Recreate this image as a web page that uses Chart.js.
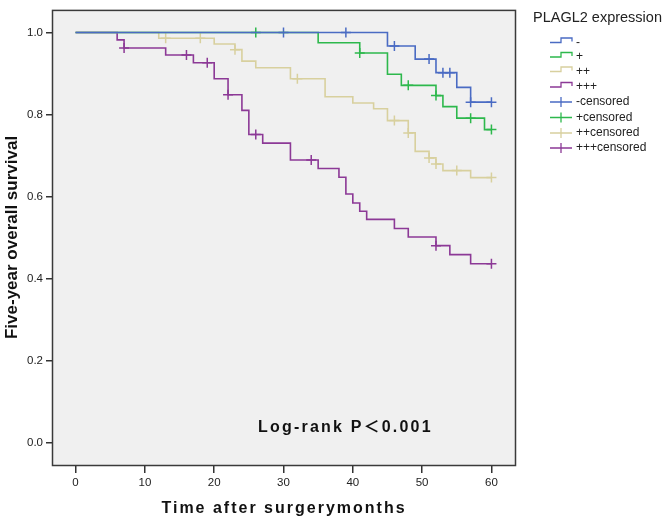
<!DOCTYPE html>
<html>
<head>
<meta charset="utf-8">
<script src="https://cdn.jsdelivr.net/npm/chart.js@4.4.0/dist/chart.umd.min.js"></script>
<style>
  body { margin: 0; background: #fff; }
  canvas { display: block; }
</style>
</head>
<body>
<canvas id="chart1" width="666" height="519"></canvas>
<script>
// survival curves (time in months, survival after each drop)
const groups = ['-', '+', '++', '+++'];
const colors = ['#4a6bc3', '#2db84c', '#d8d09e', '#8c3996'];

const timesNeg = [0, 45, 49, 52, 55, 57, 60];
const survNeg  = [1, 0.967, 0.935, 0.902, 0.866, 0.830, 0.830];
const censNeg  = [30, 39, 46, 51, 53, 54, 57, 60];

const timesPos = [0, 35, 41, 45, 47, 52, 53, 55, 59, 60];
const survPos  = [1, 0.975, 0.950, 0.898, 0.871, 0.846, 0.819, 0.791, 0.763, 0.763];
const censPos  = [26, 41, 48, 52, 57, 60];

const timesPos2 = [0, 12, 20, 23, 24, 26, 31, 36, 40, 43, 45, 48, 49, 51, 52, 53, 57, 60];
const survPos2  = [1, 0.986, 0.972, 0.958, 0.930, 0.914, 0.887, 0.843, 0.828, 0.814, 0.785, 0.755, 0.710, 0.694, 0.679, 0.663, 0.646, 0.646];
const censPos2  = [13, 18, 23, 32, 46, 48, 51, 52, 55, 60];

const timesPos3 = [0, 6, 7, 13, 17, 20, 22, 24, 25, 27, 31, 35, 38, 39, 40, 41, 42, 46, 48, 52, 54, 57, 60];
const survPos3  = [1, 0.982, 0.962, 0.945, 0.926, 0.887, 0.848, 0.810, 0.751, 0.730, 0.689, 0.668, 0.647, 0.606, 0.584, 0.564, 0.544, 0.522, 0.501, 0.480, 0.458, 0.436, 0.436];
const censPos3  = [7, 16, 19, 22, 26, 34, 52, 60];

const xTicks = [0, 10, 20, 30, 40, 50, 60];
const yTicks = [0, 0.2, 0.4, 0.6, 0.8, 1.0];

const allTimes = [timesNeg, timesPos, timesPos2, timesPos3];
const allSurv = [survNeg, survPos, survPos2, survPos3];
const allCens = [censNeg, censPos, censPos2, censPos3];

const FONT = "'Liberation Sans', Arial, sans-serif";

// survival value of a curve at time t (the step in effect)
function survAt(times, surv, t) {
    let s = surv[0];
    for (let i = 0; i < times.length; i++) {
        if (times[i] <= t) s = surv[i];
    }
    return s;
}

const lineSets = groups.map((g, i) => ({
    type: 'line',
    label: g,
    data: allTimes[i].map((t, j) => ({x: t, y: allSurv[i][j]})),
    borderColor: colors[i],
    borderWidth: 1.6,
    stepped: 'before',
    pointRadius: 0,
    fill: false
}));

const censorSets = groups.map((g, i) => ({
    type: 'scatter',
    label: g + 'censored',
    data: allCens[i].map(t => ({x: t, y: survAt(allTimes[i], allSurv[i], t)})),
    borderColor: colors[i],
    backgroundColor: colors[i],
    pointStyle: 'cross',
    pointRadius: 5,
    pointBorderWidth: 1.5,
    showLine: false
}));

// plot background, frame and extra texts
const decor = {
    id: 'decor',
    beforeDatasetsDraw(chart) {
        const {ctx, chartArea: a} = chart;
        ctx.save();
        ctx.fillStyle = '#f0f0f0';
        ctx.fillRect(a.left, a.top, a.right - a.left, a.bottom - a.top);
        ctx.restore();
    },
    afterDraw(chart) {
        const {ctx, chartArea: a} = chart;
        ctx.save();
        ctx.strokeStyle = '#3a3a3a';
        ctx.lineWidth = 1.5;
        ctx.strokeRect(a.left + 0.5, a.top + 0.5, a.right - a.left, a.bottom - a.top);

        ctx.fillStyle = '#111';
        ctx.font = "bold 16px 'Liberation Sans', 'Noto Sans CJK SC', sans-serif";
        ctx.textBaseline = 'alphabetic';
        ctx.letterSpacing = '2.2px';
        ctx.textAlign = 'left';
        ctx.fillText('Log-rank P＜0.001', 258, 432);

        ctx.font = 'bold 16px ' + FONT;
        ctx.letterSpacing = '2px';
        ctx.textAlign = 'center';
        ctx.fillText('Time after surgerymonths', 284, 513);
        ctx.letterSpacing = '0px';

        // legend
        ctx.fillStyle = '#222';
        ctx.font = '14.5px ' + FONT;
        ctx.textAlign = 'left';
        ctx.textBaseline = 'middle';
        ctx.fillText('PLAGL2 expression', 533, 18);

        const rows = [42.5, 57, 71.5, 87, 102, 117.5, 133, 148];
        ctx.font = '12px ' + FONT;
        ctx.lineWidth = 1.3;
        groups.forEach((g, i) => {
            const y = rows[i];
            ctx.strokeStyle = colors[i];
            ctx.beginPath();
            ctx.moveTo(550, y);
            ctx.lineTo(561, y);
            ctx.lineTo(561, y - 4.5);
            ctx.lineTo(572, y - 4.5);
            ctx.lineTo(572, y - 1);
            ctx.stroke();
            ctx.fillText(g, 576, y);
        });
        groups.forEach((g, i) => {
            const y = rows[i + 4];
            ctx.strokeStyle = colors[i];
            ctx.beginPath();
            ctx.moveTo(550, y);
            ctx.lineTo(572, y);
            ctx.moveTo(561, y - 5);
            ctx.lineTo(561, y + 5);
            ctx.stroke();
            ctx.fillText(g + 'censored', 576, y);
        });
        ctx.restore();
    }
};

const ctx1 = document.getElementById('chart1').getContext('2d');
const chart1 = new Chart(ctx1, {
    data: {
        datasets: [...lineSets, ...censorSets]
    },
    options: {
        responsive: false,
        animation: false,
        devicePixelRatio: 1,
        layout: {
            padding: {left: 0, right: 151, top: 2, bottom: 0}
        },
        plugins: {
            legend: {display: false},
            tooltip: {enabled: false}
        },
        scales: {
            x: {
                type: 'linear',
                min: -3.4,
                max: 63.4,
                afterFit: s => { s.height = 54; },
                afterBuildTicks: s => { s.ticks = xTicks.map(v => ({value: v})); },
                grid: {drawOnChartArea: false, tickLength: 8, color: '#333', lineWidth: 1.5},
                border: {display: false},
                ticks: {
                    padding: 3,
                    color: '#222',
                    font: {family: FONT, size: 11.5},
                    callback: v => String(v)
                }
            },
            y: {
                type: 'linear',
                min: -0.055,
                max: 1.055,
                afterFit: s => { s.width = 52; },
                afterBuildTicks: s => { s.ticks = yTicks.map(v => ({value: v})); },
                grid: {drawOnChartArea: false, tickLength: 6, color: '#333', lineWidth: 1.5},
                border: {display: false},
                ticks: {
                    padding: 3,
                    color: '#222',
                    font: {family: FONT, size: 11.5},
                    callback: v => v.toFixed(1)
                },
                title: {
                    display: true,
                    text: 'Five-year overall survival',
                    color: '#111',
                    font: {family: FONT, size: 17, weight: 'bold'},
                    padding: {top: 2, bottom: 0}
                }
            }
        }
    },
    plugins: [decor]
});
</script>
</body>
</html>
